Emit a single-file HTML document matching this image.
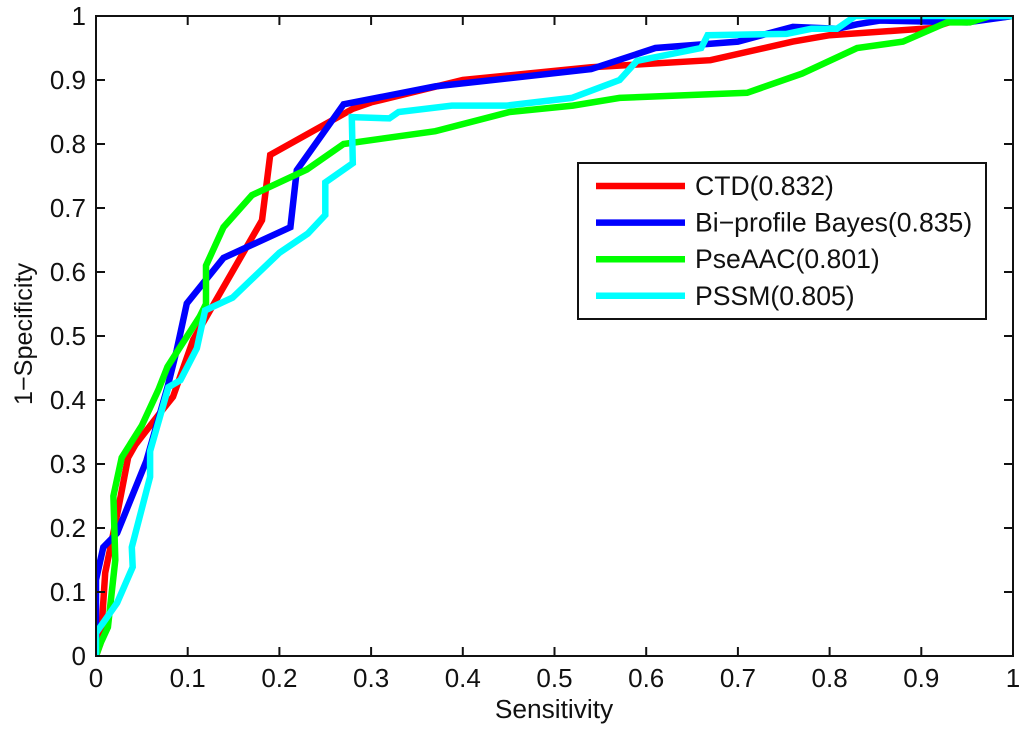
<!DOCTYPE html>
<html>
<head>
<meta charset="utf-8">
<style>
html,body{margin:0;padding:0;background:#fff;width:1024px;height:733px;overflow:hidden}
svg{display:block}
text{font-family:"Liberation Sans",sans-serif;fill:#111;font-size:26px}
</style>
</head>
<body>
<svg id="chart" width="1024" height="733" viewBox="0 0 1024 733" xmlns="http://www.w3.org/2000/svg">
<defs><clipPath id="plot-clip"><rect x="96" y="16" width="917" height="640"/></clipPath></defs>
</svg>
<script>
const ticks = [0,0.1,0.2,0.3,0.4,0.5,0.6,0.7,0.8,0.9,1];
const tickLabels = ['0','0.1','0.2','0.3','0.4','0.5','0.6','0.7','0.8','0.9','1'];
const seriesNames = ['CTD(0.832)','Bi\u2212profile Bayes(0.835)','PseAAC(0.801)','PSSM(0.805)'];
const seriesColors = ['#ff0000','#0000ff','#00ff00','#00ffff'];
const ctdX = [0,0.005,0.01,0.015,0.024,0.035,0.043,0.07,0.084,0.106,0.181,0.19,0.28,0.3,0.4,0.54,0.67,0.76,0.8,0.91,0.93,0.97,1];
const ctdY = [0,0.02,0.13,0.165,0.228,0.31,0.33,0.38,0.405,0.494,0.681,0.783,0.855,0.865,0.9,0.92,0.931,0.96,0.97,0.981,0.99,0.995,1];
const bayesX = [0,0,0.008,0.023,0.055,0.078,0.088,0.099,0.139,0.212,0.219,0.27,0.37,0.54,0.61,0.7,0.76,0.808,0.83,0.855,0.95,1];
const bayesY = [0,0.119,0.17,0.192,0.305,0.42,0.478,0.551,0.622,0.67,0.759,0.862,0.89,0.917,0.95,0.96,0.983,0.98,0.987,0.993,0.99,1];
const pseX = [0,0.005,0.013,0.021,0.019,0.028,0.05,0.068,0.078,0.113,0.12,0.12,0.139,0.17,0.23,0.27,0.37,0.451,0.52,0.571,0.71,0.77,0.83,0.88,0.928,0.953,0.975,1];
const pseY = [0,0.02,0.045,0.15,0.25,0.31,0.36,0.416,0.452,0.53,0.55,0.61,0.67,0.72,0.76,0.8,0.82,0.85,0.86,0.872,0.88,0.91,0.95,0.96,0.99,0.99,1,1];
const pssmX = [0,0,0.023,0.04,0.039,0.059,0.059,0.079,0.092,0.11,0.119,0.149,0.2,0.231,0.25,0.25,0.28,0.279,0.32,0.33,0.388,0.448,0.519,0.571,0.59,0.66,0.667,0.753,0.78,0.808,0.828,1];
const pssmY = [0,0.036,0.083,0.139,0.17,0.28,0.32,0.42,0.431,0.481,0.54,0.56,0.63,0.66,0.689,0.74,0.77,0.842,0.84,0.85,0.86,0.86,0.872,0.9,0.93,0.95,0.97,0.972,0.98,0.98,1,1];
const seriesX = [ctdX,bayesX,pseX,pssmX];
const seriesY = [ctdY,bayesY,pseY,pssmY];

const svg = document.getElementById('chart');
const NS = 'http://www.w3.org/2000/svg';
const L = 96, R = 1013, T = 16, B = 656;
const sx = v => L + v * (R - L);
const sy = v => B - v * (B - T);
function el(tag, attrs, parent) {
  const e = document.createElementNS(NS, tag);
  for (const k in attrs) e.setAttribute(k, attrs[k]);
  (parent || svg).appendChild(e);
  return e;
}
const slug = s => s.toLowerCase().replace(/[^a-z]+/g, '-').replace(/-+$/, '');

// plot series
const plot = el('g', {'clip-path': 'url(#plot-clip)'});


seriesX.forEach((xs, i) => {
  const pts = xs.map((x, j) => sx(x).toFixed(1) + ',' + sy(seriesY[i][j]).toFixed(1)).join(' ');
  const line = el('polyline', {points: pts, fill: 'none', stroke: seriesColors[i], 'stroke-width': 6.5, 'stroke-linejoin': 'miter', 'stroke-miterlimit': 3}, plot);
  
  
});

// axes frame
const frame = el('rect', {x: L, y: T, width: R - L, height: B - T, fill: 'none', stroke: '#111', 'stroke-width': 2});



// ticks and labels
ticks.forEach((t, i) => {
  const tl = 9;
  [[sx(t), B, sx(t), B - tl], [sx(t), T, sx(t), T + tl]].forEach(c => {
    const m = el('line', {x1: c[0], y1: c[1], x2: c[2], y2: c[3], stroke: '#111', 'stroke-width': 2});
    
    
  });
  [[L, sy(t), L + tl, sy(t)], [R, sy(t), R - tl, sy(t)]].forEach(c => {
    const m = el('line', {x1: c[0], y1: c[1], x2: c[2], y2: c[3], stroke: '#111', 'stroke-width': 2});
    
    
  });
  const xl = el('text', {x: sx(t), y: 687, 'text-anchor': 'middle'});
  xl.textContent = tickLabels[i];
  
  
  const yl = el('text', {x: 86, y: sy(t) + 9, 'text-anchor': 'end'});
  yl.textContent = tickLabels[i];
  
  
});

// axis titles
const xt = el('text', {x: 554, y: 718, 'text-anchor': 'middle', style: 'font-size:26.3px'});
xt.textContent = 'Sensitivity';


const yt = el('text', {x: 0, y: 0, 'text-anchor': 'middle', transform: 'translate(32,334) rotate(-90)', style: 'font-size:25.2px'});
yt.textContent = '1\u2212Specificity';



// legend
const lg = el('g', {});


const box = el('rect', {x: 578, y: 163, width: 408, height: 156, fill: '#fff', stroke: '#111', 'stroke-width': 2}, lg);


seriesNames.forEach((n, i) => {
  const y = 186 + i * 36.6;
  const h = el('line', {x1: 596, x2: 685, y1: y, y2: y, stroke: seriesColors[i], 'stroke-width': 6.5}, lg);
  
  
  const t = el('text', {x: 695, y: y + 9, style: 'font-size:26.6px'}, lg);
  t.textContent = n;
  
  
});
</script>
</body>
</html>
